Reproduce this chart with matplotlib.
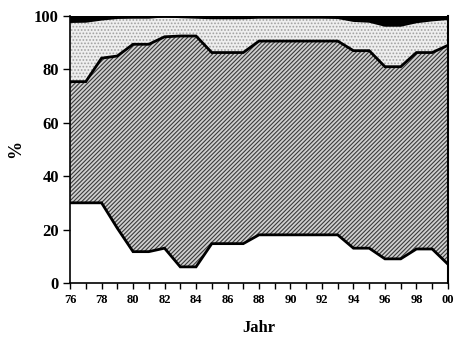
import matplotlib
matplotlib.use("Agg")
import matplotlib.pyplot as plt
import numpy as np

years = [76, 77, 78, 79, 80, 81, 82, 83, 84, 85, 86, 87, 88, 89, 90, 91, 92, 93, 94, 95, 96, 97, 98, 99, 100]
tick_labels = ["76", "78", "80", "82", "84", "86", "88", "90", "92", "94", "96", "98", "00"]
# cumulative boundaries (%)
layer1_top = [30, 30, 30, 20.5, 11.7, 11.7, 13, 6, 6, 14.7, 14.7, 14.7, 18, 18, 18, 18, 18, 18, 13, 13, 9, 9, 12.7, 12.7, 7]
layer2_top = [75.4, 75.4, 84.2, 85, 89.4, 89.4, 92.2, 92.5, 92.5, 86.3, 86.3, 86.3, 90.6, 90.6, 90.6, 90.6, 90.6, 90.6, 87, 87, 81, 81, 86.3, 86.3, 89]
layer3_top = [97.9, 98, 98.8, 99.4, 99.5, 99.5, 100, 99.7, 99.5, 99.3, 99.3, 99.3, 99.5, 99.5, 99.5, 99.5, 99.5, 99.4, 98.3, 98, 96.5, 96.5, 97.8, 98.5, 99]
layer4_top = [100] * 25

plt.rcParams['font.family'] = ['Liberation Serif', 'DejaVu Serif']
plt.rcParams['font.weight'] = 'bold'
plt.rcParams['hatch.linewidth'] = 0.8

fig = plt.figure(figsize=(4.58, 3.40), dpi=100)
ax = fig.add_axes([0.153, 0.168, 0.825, 0.785])

x = np.array(years)
zero = np.zeros(len(years))
ax.fill_between(x, zero, layer1_top, facecolor='white', edgecolor='none')
ax.fill_between(x, layer1_top, layer2_top, facecolor='#d0d0d0', edgecolor='#3a3a3a', hatch='////////', linewidth=0)
ax.fill_between(x, layer2_top, layer3_top, facecolor='#eeeeee', edgecolor='#a0a0a0', hatch='.....', linewidth=0)
ax.fill_between(x, layer3_top, layer4_top, facecolor='black', edgecolor='none')

for y in (layer1_top, layer2_top, layer3_top, layer4_top):
    ax.plot(x, y, color='black', lw=2, solid_joinstyle='miter')

ax.set_xlim(76, 100)
ax.set_ylim(0, 100)
ax.set_xticks(years)
ax.set_xticklabels([tick_labels[i // 2] if i % 2 == 0 else "" for i in range(len(years))],
                   fontsize=9, fontweight='bold')
ax.set_yticks([0, 20, 40, 60, 80, 100])
ax.set_yticklabels(["0", "20", "40", "60", "80", "100"], fontsize=12, fontweight='bold')
ax.tick_params(axis='x', direction='out', length=4, width=1, pad=4)
ax.tick_params(axis='y', direction='out', length=5, width=1, pad=3)
ax.spines['top'].set_visible(False)
ax.spines['right'].set_linewidth(1.5)
ax.spines['left'].set_linewidth(1.2)
ax.spines['bottom'].set_linewidth(1.2)
ax.set_xlabel("Jahr", fontsize=12, fontweight='bold', labelpad=10)
ax.set_ylabel("%", fontsize=13, fontweight='bold', labelpad=7)

fig.savefig("out.png", dpi=100)
